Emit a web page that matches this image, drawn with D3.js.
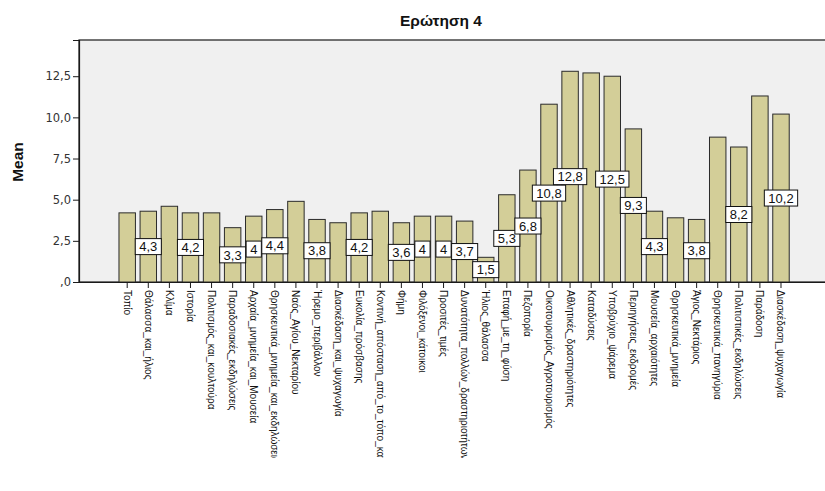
<!DOCTYPE html>
<html>
<head>
<meta charset="utf-8">
<script src="https://cdn.jsdelivr.net/npm/d3@7"></script>
<style>
  html, body { margin: 0; padding: 0; background: #ffffff; }
  svg { display: block; }
</style>
</head>
<body>
<svg id="chart" width="825" height="491"></svg>
<script>
const title = "Ερώτηση 4";
const yTitle = "Mean";
const categories = [
  "Τοπίο", "Θάλασσα_και_ήλιος", "Κλίμα", "Ιστορία", "Πολιτισμός_και_κουλτούρα",
  "Παραδοσιακές_εκδηλώσεις", "Αρχαία_μνημεία_και_Μουσεία", "Θρησκευτικά_μνημεία_και_εκδηλώσεις",
  "Ναός_Αγίου_Νεκταρίου", "Ήρεμο_περιβάλλον", "Διασκέδαση_και_ψυχαγωγία", "Ευκολία_πρόσβασης",
  "Κοντινή_απόσταση_από_το_τόπο_κατοικίας", "Φήμη", "Φιλόξενοι_κάτοικοι", "Προσιτές_τιμές",
  "Δυνατότητα_πολλών_δραστηριοτήτων", "Ήλιος_θάλασσα", "Επαφή_με_τη_φύση", "Πεζοπορία",
  "Οικοτουρισμός_Αγροτουρισμός", "Αθλητικές_δραστηριότητες", "Καταδύσεις", "Υποβρύχιο_ψάρεμα",
  "Περιηγήσεις_εκδρομές", "Μουσεία_αρχαιότητες", "Θρησκευτικά_μνημεία", "Άγιος_Νεκτάριος",
  "Θρησκευτικά_πανηγύρια", "Πολιτιστικές_εκδηλώσεις", "Παράδοση", "Διασκέδαση_ψυχαγωγία"
];
const means = [
  4.2, 4.3, 4.6, 4.2, 4.2,
  3.3, 4.0, 4.4,
  4.9, 3.8, 3.6, 4.2,
  4.3, 3.6, 4.0, 4.0,
  3.7, 1.5, 5.3, 6.8,
  10.8, 12.8, 12.7, 12.5,
  9.3, 4.3, 3.9, 3.8,
  8.8, 8.2, 11.3, 10.2
];
// which bars show a value label (others hidden in the original)
const labelShown = [
  0, 1, 0, 1, 0,
  1, 1, 1,
  0, 1, 0, 1,
  0, 1, 1, 1,
  1, 1, 1, 1,
  1, 1, 0, 1,
  1, 1, 0, 1,
  0, 1, 0, 1
];
const yTicks = [0, 2.5, 5, 7.5, 10, 12.5];
const yDomainMax = 14.7;

const svg = d3.select("#chart");
const plot = { left: 79, top: 40, right: 832, bottom: 282 };
const fmtComma = v => {
  let s = (Math.round(v * 10) / 10).toFixed(1).replace(".", ",");
  if (s.startsWith("0,")) s = s.slice(1);
  return s;
};
const fmtLabel = v => {
  const r = Math.round(v * 10) / 10;
  return Number.isInteger(r) ? String(r) : r.toFixed(1).replace(".", ",");
};

// the original chart image is cropped just below the long axis labels
svg.append("defs").append("clipPath").attr("id", "crop")
  .append("rect").attr("x", 0).attr("y", 0).attr("width", 825).attr("height", 458);

const step = 21.09;
const x = d3.scaleBand()
  .domain(categories)
  .range([127.2 - step / 2, 127.2 - step / 2 + step * categories.length])
  .paddingInner(0.22)
  .paddingOuter(0.11);
const y = d3.scaleLinear().domain([0, yDomainMax]).range([plot.bottom, plot.top]);

const root = svg.append("g").attr("clip-path", "url(#crop)");

// background
root.append("rect")
  .attr("x", plot.left).attr("y", plot.top)
  .attr("width", plot.right - plot.left).attr("height", plot.bottom - plot.top)
  .attr("fill", "#f0f0f0")
  .attr("stroke", "#1a1a1a").attr("stroke-width", 1.2);

// title
root.append("text")
  .attr("x", 441).attr("y", 26)
  .attr("text-anchor", "middle")
  .attr("font-family", "Liberation Sans, Arial, sans-serif")
  .attr("font-weight", "bold")
  .attr("font-size", 15.5)
  .attr("fill", "#111")
  .text(title);

// bars
root.append("g").selectAll("rect")
  .data(categories)
  .join("rect")
  .attr("x", d => x(d))
  .attr("y", (d, i) => y(means[i]))
  .attr("width", x.bandwidth())
  .attr("height", (d, i) => y(0) - y(means[i]))
  .attr("fill", "#d3ce98")
  .attr("stroke", "#2b2b2b")
  .attr("stroke-width", 1);

// y axis
const yAxis = d3.axisLeft(y).tickValues(yTicks).tickSize(6).tickFormat(fmtComma);
const gy = root.append("g").attr("transform", `translate(${plot.left},0)`).call(yAxis);
gy.select(".domain").attr("stroke", "#1a1a1a").attr("stroke-width", 1.2);
gy.selectAll(".tick line").attr("stroke", "#1a1a1a");
gy.selectAll(".tick text")
  .attr("font-family", "DejaVu Sans, Verdana, sans-serif")
  .attr("font-size", 11.5)
  .attr("fill", "#333")
  .attr("x", -8);

// y title
root.append("text")
  .attr("transform", `translate(23,${(plot.top + plot.bottom) / 2 + 1}) rotate(-90)`)
  .attr("text-anchor", "middle")
  .attr("font-family", "Liberation Sans, Arial, sans-serif")
  .attr("font-weight", "bold")
  .attr("font-size", 15.5)
  .attr("fill", "#111")
  .text(yTitle);

// x axis
const xAxis = d3.axisBottom(x).tickSize(6).tickSizeOuter(0);
const gx = root.append("g").attr("transform", `translate(0,${plot.bottom})`).call(xAxis);
gx.select(".domain").attr("stroke", "#1a1a1a").attr("stroke-width", 1.2)
  .attr("d", `M${plot.left},0.5H${plot.right}`);
gx.selectAll(".tick line").attr("stroke", "#1a1a1a");
gx.selectAll(".tick text")
  .attr("font-family", "Liberation Sans Narrow, Arial Narrow, Liberation Sans, sans-serif")
  .attr("font-size", 10)
  .attr("fill", "#111")
  .attr("text-anchor", "start")
  .attr("transform", "rotate(90)")
  .attr("x", 8)
  .attr("y", 0)
  .attr("dy", "0.35em");

// value labels
const lab = root.append("g").selectAll("g")
  .data(categories.filter((d, i) => labelShown[i]))
  .join("g")
  .attr("transform", d => {
    const i = categories.indexOf(d);
    return `translate(${x(d) + x.bandwidth() / 2},${(y(0) + y(means[i])) / 2})`;
  });
lab.append("text")
  .attr("text-anchor", "middle")
  .attr("dy", "0.36em")
  .attr("font-family", "Liberation Sans, Arial, sans-serif")
  .attr("font-size", 13)
  .attr("fill", "#111")
  .text(d => fmtLabel(means[categories.indexOf(d)]));
lab.each(function () {
  const g = d3.select(this);
  const bb = g.select("text").node().getBBox();
  g.insert("rect", "text")
    .attr("x", -bb.width / 2 - 4)
    .attr("y", -8)
    .attr("width", bb.width + 8)
    .attr("height", 16)
    .attr("fill", "#ffffff")
    .attr("stroke", "#111")
    .attr("stroke-width", 1);
});
</script>
</body>
</html>
